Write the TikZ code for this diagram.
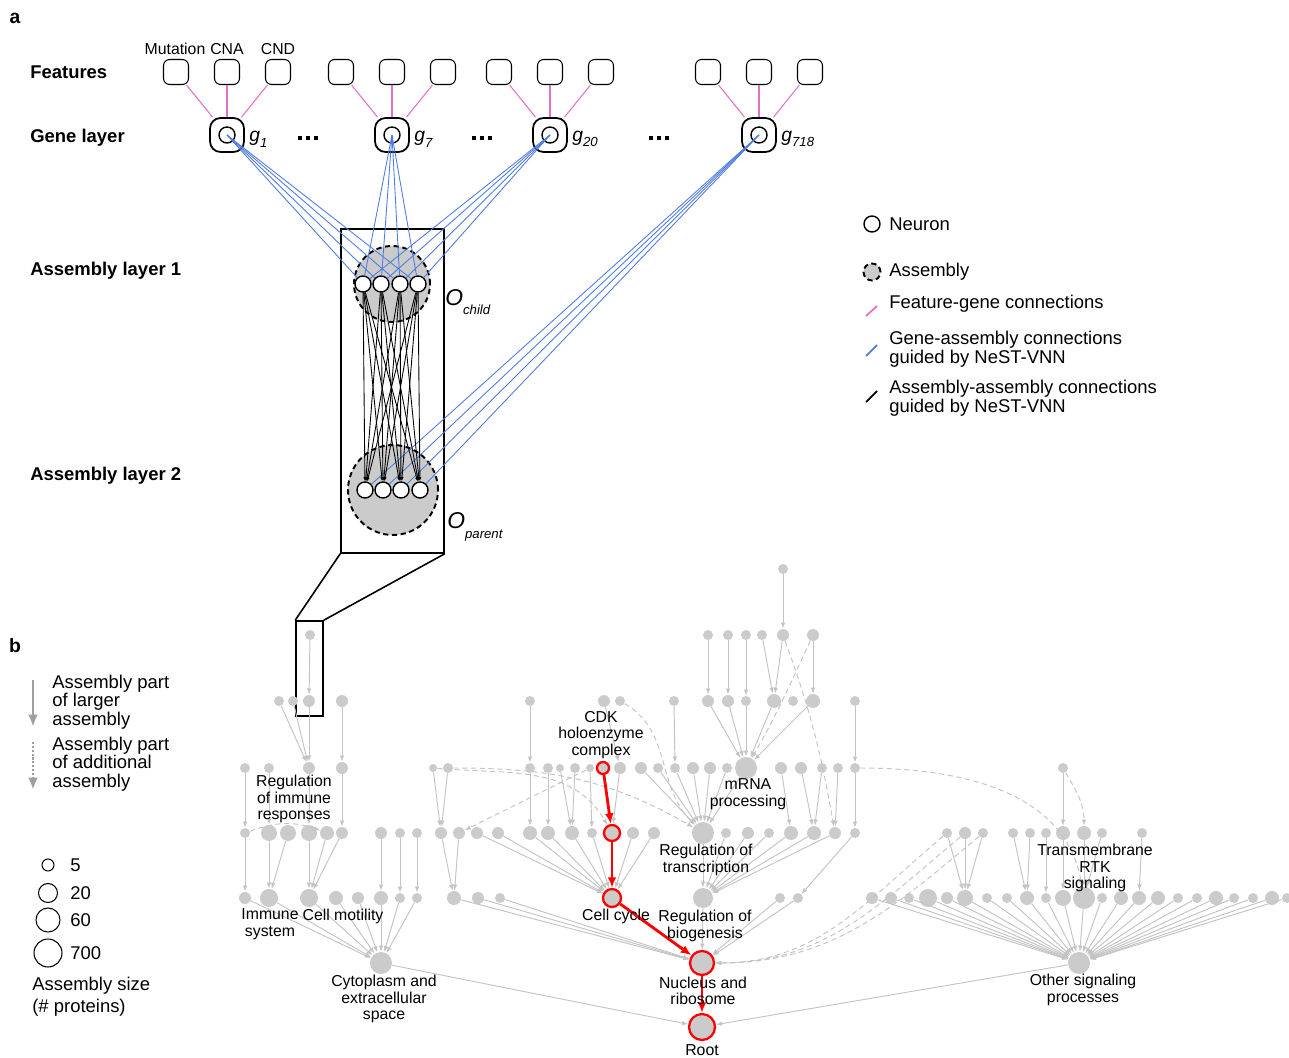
\documentclass[tikz,border=0pt]{standalone}
\usepackage{fontspec}
\setmainfont{Liberation Sans}
\usetikzlibrary{arrows.meta}

\definecolor{nodegray}{RGB}{203,203,203}
\definecolor{edgegray}{RGB}{196,196,196}
\definecolor{fgpink}{RGB}{228,112,200}
\definecolor{gablue}{RGB}{80,124,224}

\newcommand\gsub[1]{{\itshape g}\raisebox{-0.55ex}{\fontsize{7.5}{7.5}\selectfont\itshape #1}}
\newcommand\osub[1]{{\fontsize{13}{13}\selectfont\itshape O}\raisebox{-1ex}{\fontsize{7.5}{8}\selectfont\itshape #1}}

\tikzset{
  gn/.style={circle,fill=nodegray,inner sep=0pt,minimum size=#1*0.04cm},
  rn/.style={circle,fill=nodegray,draw=red,line width=1.3pt,inner sep=0pt,minimum size=#1*0.04cm},
  tr/.style={draw=edgegray,line width=0.55pt,-{Latex[length=3.5pt,width=2.6pt]}},
  td/.style={tr,dash pattern=on 3pt off 2pt},
  redarr/.style={draw=red,line width=1.6pt,-{Latex[length=6pt,width=5pt]}},
  glab/.style={align=center,font=\fontsize{9}{9.4}\selectfont,inner sep=0pt},
}

\begin{document}
\begin{tikzpicture}[x=0.02cm,y=-0.02cm,
   feat/.style={draw,rounded corners=3.5pt,minimum size=0.5cm,inner sep=0pt,line width=0.6pt},
   genebox/.style={draw,rounded corners=6pt,minimum size=0.68cm,inner sep=0pt,line width=1pt},
   gcirc/.style={circle,draw,inner sep=0pt,minimum size=0.32cm,line width=0.8pt},
   neuron/.style={circle,draw,fill=white,inner sep=0pt,minimum size=0.32cm,line width=0.8pt},
   asm/.style={circle,draw,fill=nodegray,dash pattern=on 3pt off 2pt,line width=1.1pt,inner sep=0pt,minimum size=#1},
   hd/.style={anchor=west,inner sep=0pt,font=\bfseries\fontsize{10.5}{12}\selectfont},
   txt/.style={anchor=west,inner sep=0pt,align=left,font=\fontsize{10.5}{10.6}\selectfont},
   fg/.style={draw=fgpink,line width=0.6pt},
   ga/.style={draw=gablue,line width=0.5pt},
   aa/.style={draw=black,line width=0.5pt,-{Latex[length=2.4pt,width=1.8pt]}}]
\useasboundingbox (0,0) rectangle (1289,1058);

% panel a
\node[font=\bfseries\fontsize{11}{12}\selectfont] (pa) at (15,18) {a};
\node[hd] (hfeat) at (30,72) {Features};
\node[hd] (hgene) at (30,138) {Gene layer};
\node[hd] (hasm1) at (30,271) {Assembly layer 1};
\node[hd] (hasm2) at (30,476) {Assembly layer 2};
\node[font=\fontsize{9}{10}\selectfont] (lmut) at (175,49) {Mutation};
\node[font=\fontsize{9}{10}\selectfont] (lcna) at (227,49) {CNA};
\node[font=\fontsize{9}{10}\selectfont] (lcnd) at (278,49) {CND};

\foreach \g/\x in {1/227,7/392,20/550,718/759} {
  \node[genebox] (gb\g) at (\x,135) {};
  \node[gcirc] (gc\g) at (\x,135) {};
  \node[anchor=west,inner sep=0pt,font=\fontsize{11}{12}\selectfont] (gl\g) at (\x+22,139) {\gsub{\g}};
  \foreach \d [count=\i] in {-51,0,51} {
    \node[feat] (f\g-\i) at (\x+\d,72) {};
    \draw[fg] (f\g-\i) -- (gb\g);
  }
}
\foreach \c in {308,482,659}
  \foreach \d in {-8,0,8}
    \fill (\c+\d-2.2,135.8) rectangle ++(4.4,4.4);

\node[draw,line width=0.9pt,minimum width=2.06cm,minimum height=6.48cm,inner sep=0pt] (zoomA) at (392.5,391) {};
\node[asm=1.52cm] (asm1) at (392,284) {};
\node[asm=1.8cm] (asm2) at (393,490) {};
\foreach \x [count=\i] in {363,381,400,418} \node[neuron] (t\i) at (\x,284) {};
\foreach \x [count=\i] in {365,383,401,420} \node[neuron] (b\i) at (\x,490) {};

\foreach \g in {1,7,20}
  \foreach \i in {1,...,4} \draw[ga] (gc\g.center) -- (t\i);
\foreach \i in {1,...,4} \draw[ga] (gc718.center) -- (b\i);
\foreach \i in {1,...,4}
  \foreach \j in {1,...,4} \draw[aa] (t\i) -- (b\j);

\node[anchor=west,inner sep=0pt] (ochild) at (445,302) {\osub{child}};
\node[anchor=west,inner sep=0pt] (oparent) at (447,527) {\osub{parent}};

\node[draw,line width=0.9pt,minimum width=0.54cm,minimum height=1.9cm,inner sep=0pt] (zoomB) at (309.5,668.5) {};
\draw[line width=0.9pt] (zoomA.south west) -- (zoomB.north west)
                        (zoomA.south east) -- (zoomB.north east);

% legend a
\node[neuron] (kn) at (872,224) {};
\node[txt] (kntxt) at (889,224) {Neuron};
\node[asm=0.34cm] (ka) at (872,272) {};
\node[txt] (katxt) at (889,272) {Assembly};
\draw[fgpink,line width=1pt] (866,316) -- (877,306);
\node[txt] (kfg) at (889,304) {Feature-gene connections};
\draw[gablue,line width=1pt] (866,356) -- (877,345);
\node[txt] (kga) at (889,349) {Gene-assembly connections\\guided by NeST-VNN};
\draw[black,line width=1pt] (866,402) -- (877,391);
\node[txt] (kaa) at (889,398) {Assembly-assembly connections\\guided by NeST-VNN};

% panel b
\node[font=\bfseries\fontsize{11}{12}\selectfont] (pb) at (15,646) {b};
\draw[gray!75,line width=1.6pt,-{Latex[length=7pt,width=5.5pt]}] (33,680) -- (33,727);
\node[txt] (kpart) at (52,702) {Assembly part\\of larger\\assembly};
\draw[gray!75,line width=1.6pt,dash pattern=on 1.2pt off 1pt,-{Latex[length=7pt,width=5.5pt]}] (33,742) -- (33,790);
\node[txt] (kadd) at (52,764) {Assembly part\\of additional\\assembly};
\foreach \y/\r/\t in {865/6/5,893/9.5/20,920/12/60,953/14/700} {
  \node[circle,draw,inner sep=0pt,minimum size=\r*0.04cm,line width=0.6pt] (sz\t) at (48,\y) {};
  \node[txt] (szl\t) at (70,\y) {\t};
}
\node[txt] (ksize) at (32,986) {Assembly size};
\node[txt] (kprot) at (32,1008) {(\# proteins)};

% hierarchy
\node[gn=5] (A783) at (783,569) {};
\foreach \x/\r in {310/5,708/5,728/5,746/5,762/5,783/6,813/6}
  \node[gn=\r] (B\x) at (\x,635) {};
\foreach \x/\r in {279/5,293/5,309/6,342/6,530/5,604/6,620/5,674/5,708/6,728/6,746/5,774/7,793/5,813/7,855/5}
  \node[gn=\r] (C\x) at (\x,701) {};
\foreach \x/\r in {245/5,269/5,309/6,342/6,433/4,448/5,530/5,548/5,560/4,575/5,590/4,620/6,641/6,658/5,675/5,693/6,710/6,727/5,746/11,781/6,801/6,822/5,838/5,855/5,1063/5}
  \node[gn=\r] (D\x) at (\x,768) {};
\node[rn=6] (D603) at (603,768) {};
\foreach \x/\r in {245/5,269/8,288/8,309/8,327/7,342/6,381/6,400/5,417/5,441/6,459/6,477/6,498/6,530/7,548/7,572/7,592/5,633/6,654/6,703/11,726/5,748/6,769/5,791/7,814/7,835/6,855/5,947/5,965/6,983/5,1013/5,1030/5,1046/5,1063/7,1084/7,1102/5,1142/5}
  \node[gn=\r] (E\x) at (\x,833) {};
\node[rn=8] (E612) at (612,833) {};
\foreach \x/\r in {245/6,269/9,309/9,336/7,358/6,381/7,400/5,417/5,454/7,478/6,500/5,703/10,780/5,798/5,872/6,891/6,909/5,928/9,947/6,965/8,987/5,1007/5,1027/7,1046/5,1063/8,1084/11,1102/5,1121/7,1139/7,1158/7,1178/5,1197/5,1216/7,1234/5,1253/5,1272/7,1287/5}
  \node[gn=\r] (F\x) at (\x,898) {};
\node[rn=9] (F612) at (612,898) {};
\node[gn=11] (G381) at (381,963) {};
\node[rn=12] (G702) at (702,963) {};
\node[gn=11] (G1079) at (1079,963) {};
\node[rn=13] (R702) at (702,1027) {};

\foreach \a/\b in {A783/B783,B310/C309,B708/C708,B728/C728,B746/C746,B762/C774,B783/C774,B813/C813,
    C279/D309,C293/D309,C309/D309,C342/D342,C530/D530,C604/D620,C674/D675,C708/D746,C728/D746,C746/D746,C774/D746,C813/D746,C855/D855,
    D245/E245,D269/E269,D309/E309,D342/E342,D433/E441,D448/E441,D530/E530,D548/E548,D560/E572,D575/E572,D590/E592,D620/E612,
    D641/E703,D658/E703,D675/E703,D693/E703,D710/E703,D727/E703,D746/E703,D781/E791,D801/E814,D822/E814,D838/E835,D855/E855,D1063/E1063,
    E245/F245,E269/F269,E288/F269,E309/F309,E327/F309,E342/F309,E381/F381,E400/F400,E417/F417,E441/F454,E459/F454,
    E477/F612,E498/F612,E530/F612,E548/F612,E572/F612,E592/F612,E633/F612,E654/F612,
    E703/F703,E726/F703,E748/F703,E769/F703,E791/F703,E814/F703,E835/F703,E855/F798,
    E947/F965,E965/F965,E983/F965,E1013/F1027,E1030/F1027,E1046/F1046,E1063/F1063,E1084/F1084,E1102/F1084,E1142/F1139,
    G381/R702,G1079/R702}
  \draw[tr] (\a) -- (\b);
\foreach \x in {245,269,309,336,358,381,400,417}
  \draw[tr] (F\x) -- (G381);
\foreach \x in {454,478,500,703,780,798}
  \draw[tr] (F\x) -- (G702);
\foreach \x in {872,891,909,928,947,965,987,1007,1027,1046,1063,1084,1102,1121,1139,1158,1178,1197,1216,1234,1253,1272,1287}
  \draw[tr] (F\x) -- (G1079);

\draw[td] (B783) to[out=-70,in=100] (E835);
\draw[td] (B813) to[out=-115,in=60] (D746);
\draw[td] (C620) to[out=-30,in=135] (E703);
\draw[td] (D448) to[out=0,in=150] (E703);
\draw[td] (D433) to[out=-5,in=120] (E612);
\draw[td] (D590) -- (E459);
\draw[td] (D855) to[out=0,in=100] (F1084);
\draw[td] (D1063) to[out=-60,in=90] (E1084);
\draw[td] (E245) to[bend left=20] (E327);
\foreach \x in {947,965,983}
  \draw[td] (E\x) to[out=-140,in=0] (G702);

\draw[redarr] (D603) -- (E612);
\draw[redarr] (E612) -- (F612);
\draw[redarr] (F612) -- (G702);
\draw[redarr] (G702) -- (R702);

\node[glab] (lcdk) at (601,735) {CDK\\holoenzyme\\complex};
\node[glab] (lmrna) at (748,794) {mRNA\\processing};
\node[glab] (limm) at (294,799) {Regulation\\of immune\\responses};
\node[glab] (ltrans) at (706,860) {Regulation of\\transcription};
\node[glab] (lrtk) at (1095,868) {Transmembrane\\RTK\\signaling};
\node[glab] (lisys) at (270,924) {Immune\\system};
\node[glab] (lmot) at (343,916) {Cell motility};
\node[glab] (lcc) at (616,916) {Cell cycle};
\node[glab] (lbio) at (705,926) {Regulation of\\biogenesis};
\node[glab] (lcyto) at (384,999) {Cytoplasm and\\extracellular\\space};
\node[glab] (lnuc) at (703,991) {Nucleus and\\ribosome};
\node[glab] (loth) at (1083,990) {Other signaling\\processes};
\node[glab] (lroot) at (702,1050) {Root};
\end{tikzpicture}
\end{document}
